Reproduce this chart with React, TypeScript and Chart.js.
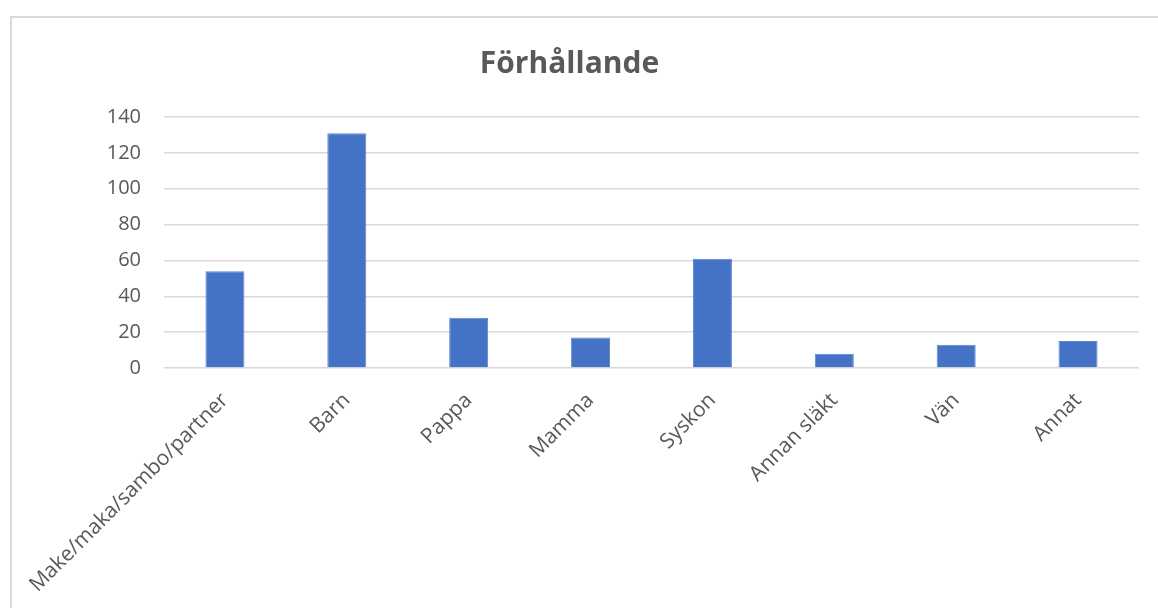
import React, { useEffect, useRef } from "react";
import { Chart, registerables } from "chart.js";

Chart.register(...registerables);

const categories = [
  "Make/maka/sambo/partner",
  "Barn",
  "Pappa",
  "Mamma",
  "Syskon",
  "Annan släkt",
  "Vän",
  "Annat",
];
const counts = [54, 131, 28, 17, 61, 8, 13, 15];
const yMin = 0;
const yMax = 140;
const yStep = 20;
const titleText = "Förhållande";

const FONT = "'Open Sans', 'Liberation Sans', sans-serif";

export default function App() {
  const ref = useRef<HTMLCanvasElement | null>(null);

  useEffect(() => {
    if (!ref.current) return;
    const chart = new Chart(ref.current, {
      type: "bar",
      data: {
        labels: categories,
        datasets: [
          {
            label: titleText,
            data: counts,
            backgroundColor: "#4472C4",
            borderColor: "#5b84cc",
            borderWidth: 1,
            barPercentage: 0.32,
            categoryPercentage: 1,
          },
        ],
      },
      options: {
        animation: false,
        responsive: false,
        maintainAspectRatio: false,
        layout: { padding: { left: 0, right: 19, top: 0, bottom: 0 } },
        plugins: {
          legend: { display: false },
          tooltip: { enabled: false },
          title: {
            display: true,
            text: titleText,
            color: "#595959",
            font: { family: FONT, size: 30, weight: "bold" },
            padding: { top: 46, bottom: 35 },
          },
        },
        scales: {
          x: {
            grid: { display: false },
            border: { display: false },
            ticks: {
              color: "#595959",
              font: { family: FONT, size: 21 },
              minRotation: 45,
              maxRotation: 45,
              padding: 12,
              autoSkip: false,
            },
            afterFit: (scale: any) => {
              scale.height = 240;
            },
          },
          y: {
            min: yMin,
            max: yMax,
            grid: { color: "#d9d9d9", lineWidth: 1.5, drawTicks: false },
            border: { display: false },
            ticks: {
              stepSize: yStep,
              color: "#595959",
              font: { family: FONT, size: 20 },
              padding: 23,
            },
            afterFit: (scale: any) => {
              scale.width = 164;
            },
          },
        },
      },
    });
    return () => chart.destroy();
  }, []);

  return (
    <div style={{ position: "absolute", left: 0, top: 0, width: 1158, height: 608, overflow: "hidden", background: "#fff" }}>
      <div
        style={{
          position: "absolute",
          left: 10,
          top: 16,
          width: 1200,
          height: 700,
          border: "2px solid #d9d9d9",
          boxSizing: "border-box",
        }}
      />
      <canvas ref={ref} width={1158} height={608} style={{ position: "absolute", left: 0, top: 0 }} />
    </div>
  );
}
